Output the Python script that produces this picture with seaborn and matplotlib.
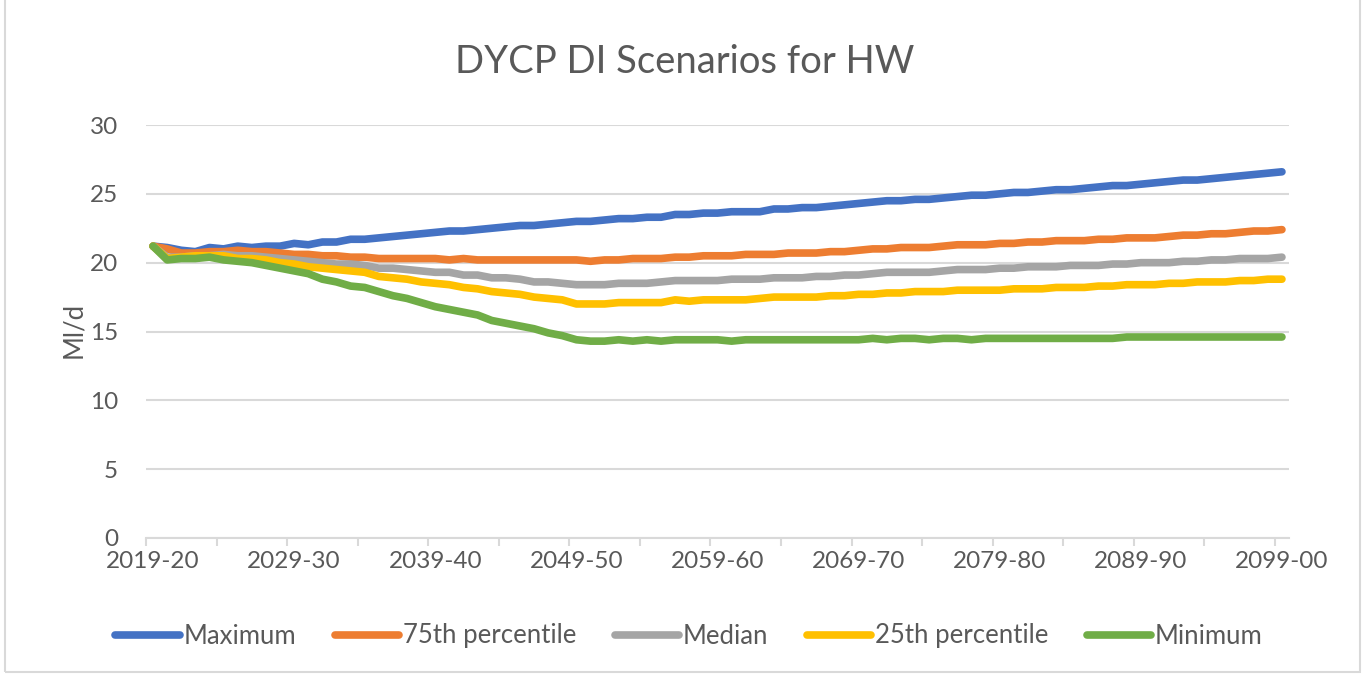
import matplotlib
matplotlib.use('Agg')
import matplotlib.pyplot as plt
from matplotlib.patches import Rectangle
import seaborn as sns
import pandas as pd
import numpy as np

# Tahun fiskal 2019-20 .. 2099-00
start_years = list(range(2019, 2100))
periods = [f"{y}-{str(y + 1)[-2:]}" for y in start_years]

maximum = [21.2, 21.1, 20.9, 20.8, 21.1, 21.0, 21.2, 21.1, 21.2, 21.2,
           21.4, 21.3, 21.5, 21.5, 21.7, 21.7, 21.8, 21.9, 22.0, 22.1,
           22.2, 22.3, 22.3, 22.4, 22.5, 22.6, 22.7, 22.7, 22.8, 22.9,
           23.0, 23.0, 23.1, 23.2, 23.2, 23.3, 23.3, 23.5, 23.5, 23.6,
           23.6, 23.7, 23.7, 23.7, 23.9, 23.9, 24.0, 24.0, 24.1, 24.2,
           24.3, 24.4, 24.5, 24.5, 24.6, 24.6, 24.7, 24.8, 24.9, 24.9,
           25.0, 25.1, 25.1, 25.2, 25.3, 25.3, 25.4, 25.5, 25.6, 25.6,
           25.7, 25.8, 25.9, 26.0, 26.0, 26.1, 26.2, 26.3, 26.4, 26.5, 26.6]

p75 = [21.2, 21.0, 20.7, 20.7, 20.8, 20.8, 20.9, 20.8, 20.8, 20.7,
       20.6, 20.6, 20.5, 20.5, 20.4, 20.4, 20.3, 20.3, 20.3, 20.3,
       20.3, 20.2, 20.3, 20.2, 20.2, 20.2, 20.2, 20.2, 20.2, 20.2,
       20.2, 20.1, 20.2, 20.2, 20.3, 20.3, 20.3, 20.4, 20.4, 20.5,
       20.5, 20.5, 20.6, 20.6, 20.6, 20.7, 20.7, 20.7, 20.8, 20.8,
       20.9, 21.0, 21.0, 21.1, 21.1, 21.1, 21.2, 21.3, 21.3, 21.3,
       21.4, 21.4, 21.5, 21.5, 21.6, 21.6, 21.6, 21.7, 21.7, 21.8,
       21.8, 21.8, 21.9, 22.0, 22.0, 22.1, 22.1, 22.2, 22.3, 22.3, 22.4]

median = [21.2, 20.4, 20.4, 20.5, 20.5, 20.6, 20.5, 20.5, 20.4, 20.3,
          20.2, 20.1, 20.0, 19.9, 19.9, 19.8, 19.6, 19.6, 19.5, 19.4,
          19.3, 19.3, 19.1, 19.1, 18.9, 18.9, 18.8, 18.6, 18.6, 18.5,
          18.4, 18.4, 18.4, 18.5, 18.5, 18.5, 18.6, 18.7, 18.7, 18.7,
          18.7, 18.8, 18.8, 18.8, 18.9, 18.9, 18.9, 19.0, 19.0, 19.1,
          19.1, 19.2, 19.3, 19.3, 19.3, 19.3, 19.4, 19.5, 19.5, 19.5,
          19.6, 19.6, 19.7, 19.7, 19.7, 19.8, 19.8, 19.8, 19.9, 19.9,
          20.0, 20.0, 20.0, 20.1, 20.1, 20.2, 20.2, 20.3, 20.3, 20.3, 20.4]

p25 = [21.2, 20.3, 20.4, 20.5, 20.5, 20.5, 20.3, 20.3, 20.2, 20.0,
       19.9, 19.7, 19.6, 19.5, 19.4, 19.3, 19.0, 18.9, 18.8, 18.6,
       18.5, 18.4, 18.2, 18.1, 17.9, 17.8, 17.7, 17.5, 17.4, 17.3,
       17.0, 17.0, 17.0, 17.1, 17.1, 17.1, 17.1, 17.3, 17.2, 17.3,
       17.3, 17.3, 17.3, 17.4, 17.5, 17.5, 17.5, 17.5, 17.6, 17.6,
       17.7, 17.7, 17.8, 17.8, 17.9, 17.9, 17.9, 18.0, 18.0, 18.0,
       18.0, 18.1, 18.1, 18.1, 18.2, 18.2, 18.2, 18.3, 18.3, 18.4,
       18.4, 18.4, 18.5, 18.5, 18.6, 18.6, 18.6, 18.7, 18.7, 18.8, 18.8]

minimum = [21.2, 20.2, 20.3, 20.3, 20.4, 20.2, 20.1, 20.0, 19.8, 19.6,
           19.4, 19.2, 18.8, 18.6, 18.3, 18.2, 17.9, 17.6, 17.4, 17.1,
           16.8, 16.6, 16.4, 16.2, 15.8, 15.6, 15.4, 15.2, 14.9, 14.7,
           14.4, 14.3, 14.3, 14.4, 14.3, 14.4, 14.3, 14.4, 14.4, 14.4,
           14.4, 14.3, 14.4, 14.4, 14.4, 14.4, 14.4, 14.4, 14.4, 14.4,
           14.4, 14.5, 14.4, 14.5, 14.5, 14.4, 14.5, 14.5, 14.4, 14.5,
           14.5, 14.5, 14.5, 14.5, 14.5, 14.5, 14.5, 14.5, 14.5, 14.6,
           14.6, 14.6, 14.6, 14.6, 14.6, 14.6, 14.6, 14.6, 14.6, 14.6, 14.6]

series_names = ['Maximum', '75th percentile', 'Median', '25th percentile', 'Minimum']
series_values = [maximum, p75, median, p25, minimum]
colors = ['#4472C4', '#ED7D31', '#A5A5A5', '#FFC000', '#70AD47']

# Data panjang untuk seaborn
df = pd.concat([
    pd.DataFrame({'idx': np.arange(len(periods)), 'value': vals, 'series': name})
    for name, vals in zip(series_names, series_values)
])

sns.set_theme(style='white')
plt.rcParams['font.family'] = ['Lato', 'DejaVu Sans']
text_color = '#595959'
grid_color = '#D9D9D9'
lw = 5.5

fig = plt.figure(figsize=(13.68, 6.74), dpi=100)
ax = fig.add_axes([146 / 1368, 1 - 538 / 674, 1143 / 1368, 413 / 674])

sns.lineplot(data=df, x='idx', y='value', hue='series', hue_order=series_names,
             palette=colors, linewidth=lw, ax=ax, legend=False,
             solid_capstyle='round', solid_joinstyle='round')

ax.set_xlim(-0.5, 80.5)
ax.set_ylim(0, 30)
ax.set_yticks(range(0, 31, 5))
ax.yaxis.grid(True, color=grid_color, linewidth=1.5)
ax.set_axisbelow(True)
for s in ['top', 'right', 'left']:
    ax.spines[s].set_visible(False)
ax.spines['bottom'].set_color(grid_color)
ax.spines['bottom'].set_linewidth(1.5)

ax.set_xticks(range(0, 81, 10))
ax.set_xticklabels([periods[i] for i in range(0, 81, 10)])
ax.set_xticks(np.arange(-0.5, 80, 5), minor=True)
ax.tick_params(axis='x', which='major', length=0, pad=9, labelsize=17.5, labelcolor=text_color)
ax.tick_params(axis='x', which='minor', length=6, width=1.5, color=grid_color, direction='out', bottom=True)
ax.tick_params(axis='y', length=0, pad=20, labelsize=17.5, labelcolor=text_color)
ax.set_xlabel('')
ax.set_ylabel('')

fig.text(74 / 1368, 1 - 330 / 674, 'Ml/d', rotation=90, ha='center', va='center',
         fontsize=18.5, color=text_color)
fig.text(685 / 1368, 1 - 62 / 674, 'DYCP DI Scenarios for HW', ha='center', va='center',
         fontsize=27.5, color=text_color)

handles = [plt.Line2D([0], [0], color=c, linewidth=lw, solid_capstyle='round') for c in colors]
fig.legend(handles, series_names, loc='center', bbox_to_anchor=(689 / 1368, 1 - 636 / 674),
           ncol=5, frameon=False, fontsize=18.5, handlelength=2.5, handletextpad=0.15,
           columnspacing=1.5, labelcolor=text_color)

# Bingkai chart
fig.patches.append(Rectangle((5 / 1368, 2 / 674), 1355 / 1368, 1.2, transform=fig.transFigure,
                             fill=False, edgecolor=grid_color, linewidth=1.5))

fig.savefig('out.png', dpi=100)
